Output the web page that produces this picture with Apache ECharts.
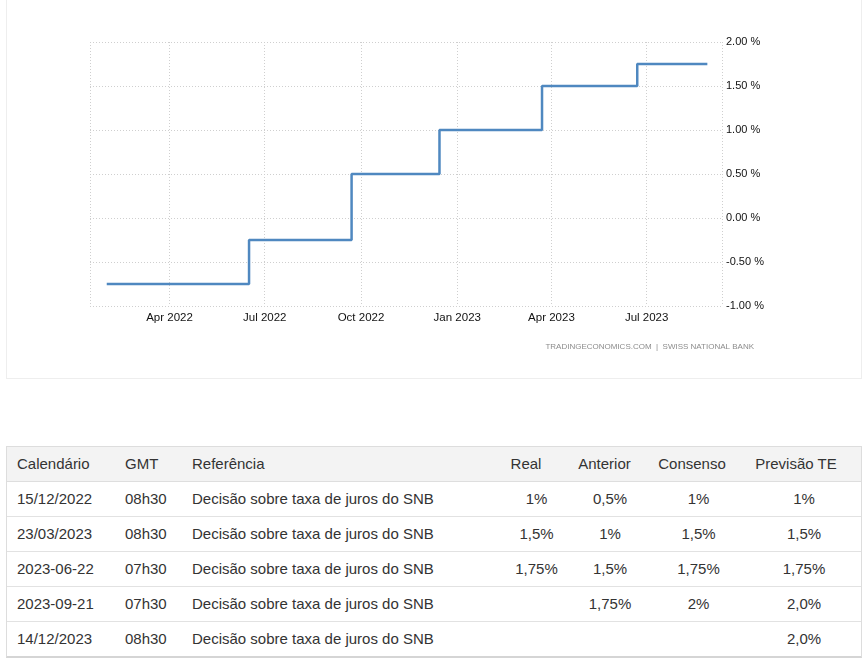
<!DOCTYPE html>
<html>
<head>
<meta charset="utf-8">
<script src="https://cdn.jsdelivr.net/npm/echarts@6/dist/echarts.min.js"></script>
<style>
  html, body { margin: 0; padding: 0; background: #fff; width: 865px; height: 660px; overflow: hidden; }
  #panel { position: absolute; left: 6px; top: -1px; width: 856px; height: 380px; box-sizing: border-box; border: 1px solid #eeeeee; }
  #chart { position: absolute; left: 0; top: 0; width: 865px; height: 380px; }
  #table { position: absolute; left: 6px; top: 446px; width: 856px; height: 212px; box-sizing: border-box;
           border: 1px solid #dddddd; border-bottom: 2px solid #d5d5d5; font-family: "Liberation Sans", Arial, sans-serif; font-size: 15px; color: #333; }
  .row { position: absolute; left: 0; width: 854px; box-sizing: border-box; }
  .head { background: #f3f3f3; border-bottom: 1px solid #dedede; }
  .body { border-bottom: 1px solid #e2e2e2; }
  .cell { position: absolute; top: 0; white-space: nowrap; }
</style>
</head>
<body>
<div id="panel"></div>
<div id="chart"></div>
<div id="table"></div>
<script>
// ---- chart data ----
const rateDates = ['2022-01-31', '2022-06-16', '2022-09-22', '2022-12-15', '2023-03-23', '2023-06-22', '2023-08-28'];
const rateValues = [-0.75, -0.25, 0.5, 1.0, 1.5, 1.75, 1.75];
const monthNames = ['Jan', 'Feb', 'Mar', 'Apr', 'May', 'Jun', 'Jul', 'Aug', 'Sep', 'Oct', 'Nov', 'Dec'];
const sourceText = 'TRADINGECONOMICS.COM  |  SWISS NATIONAL BANK';

// ---- table data ----
const tableHeaders = ['Calendário', 'GMT', 'Referência', 'Real', 'Anterior', 'Consenso', 'Previsão TE'];
const calendarDates = ['15/12/2022', '23/03/2023', '2023-06-22', '2023-09-21', '14/12/2023'];
const gmtTimes = ['08h30', '08h30', '07h30', '07h30', '08h30'];
const references = ['Decisão sobre taxa de juros do SNB', 'Decisão sobre taxa de juros do SNB', 'Decisão sobre taxa de juros do SNB', 'Decisão sobre taxa de juros do SNB', 'Decisão sobre taxa de juros do SNB'];
const actualValues = ['1%', '1,5%', '1,75%', '', ''];
const previousValues = ['0,5%', '1%', '1,5%', '1,75%', ''];
const consensusValues = ['1%', '1,5%', '1,75%', '2%', ''];
const forecastValues = ['1%', '1,5%', '1,75%', '2,0%', '2,0%'];

const chart = echarts.init(document.getElementById('chart'), null, { renderer: 'canvas' });
const fontFam = '"Liberation Sans", Arial, sans-serif';
chart.setOption({
  animation: false,
  grid: { left: 90, right: 143, top: 42, bottom: 74 },
  xAxis: {
    type: 'time',
    min: '2022-01-15',
    max: '2023-09-11',
    splitNumber: 6,
    axisLine: { show: false },
    axisTick: { show: false },
    axisLabel: {
      color: '#111', fontSize: 11.5, fontFamily: fontFam, margin: 6, hideOverlap: false,
      formatter: function (v) { const d = new Date(v); return monthNames[d.getMonth()] + ' ' + d.getFullYear(); }
    },
    splitLine: { show: true, lineStyle: { color: '#cfcfcf', type: [1, 2], width: 1 } }
  },
  yAxis: {
    type: 'value',
    position: 'right',
    min: -1, max: 2, interval: 0.5,
    axisLine: { show: false },
    axisTick: { show: false },
    axisLabel: {
      color: '#111', fontSize: 11, fontFamily: fontFam, margin: 4,
      formatter: function (v) { return v.toFixed(2) + ' %'; }
    },
    splitLine: { show: true, lineStyle: { color: '#cfcfcf', type: [1, 2], width: 1 } }
  },
  graphic: [{
    type: 'text', right: 111, top: 343,
    style: { text: sourceText, fill: '#8c8c8c', font: '8px ' + fontFam, textAlign: 'right' }
  }],
  series: [{
    type: 'line',
    step: 'end',
    showSymbol: false,
    data: rateDates.map((d, i) => [d, rateValues[i]]),
    lineStyle: { color: '#4f88c0', width: 2.5 },
    itemStyle: { color: '#4f88c0' }
  }]
});

// ---- table ----
const table = document.getElementById('table');
const leftCols = [10, 118, 185];              // left edges for text columns (relative to table)
const headCenters = [519, 597.5, 685, 789];   // centres of numeric headers
const valCenters = [529.5, 603, 691.5, 797];  // centres of numeric values
function addCell(row, text, opts) {
  const c = document.createElement('div');
  c.className = 'cell';
  c.textContent = text;
  if (opts.left !== undefined) { c.style.left = opts.left + 'px'; }
  else { c.style.left = (opts.center - 60) + 'px'; c.style.width = '120px'; c.style.textAlign = 'center'; }
  c.style.lineHeight = opts.h + 'px';
  row.appendChild(c);
}
const head = document.createElement('div');
head.className = 'row head'; head.style.top = '0px'; head.style.height = '35px';
table.appendChild(head);
tableHeaders.forEach((h, i) => {
  if (i < 3) addCell(head, h, { left: leftCols[i], h: 34 });
  else addCell(head, h, { center: headCenters[i - 3], h: 34 });
});
const cols = [actualValues, previousValues, consensusValues, forecastValues];
for (let r = 0; r < calendarDates.length; r++) {
  const row = document.createElement('div');
  row.className = 'row body';
  row.style.top = (35 + r * 35) + 'px';
  row.style.height = '35px';
  if (r === calendarDates.length - 1) row.style.borderBottom = 'none';
  table.appendChild(row);
  addCell(row, calendarDates[r], { left: leftCols[0], h: 34 });
  addCell(row, gmtTimes[r], { left: leftCols[1], h: 34 });
  addCell(row, references[r], { left: leftCols[2], h: 34 });
  cols.forEach((col, j) => addCell(row, col[r], { center: valCenters[j], h: 34 }));
}
</script>
</body>
</html>
